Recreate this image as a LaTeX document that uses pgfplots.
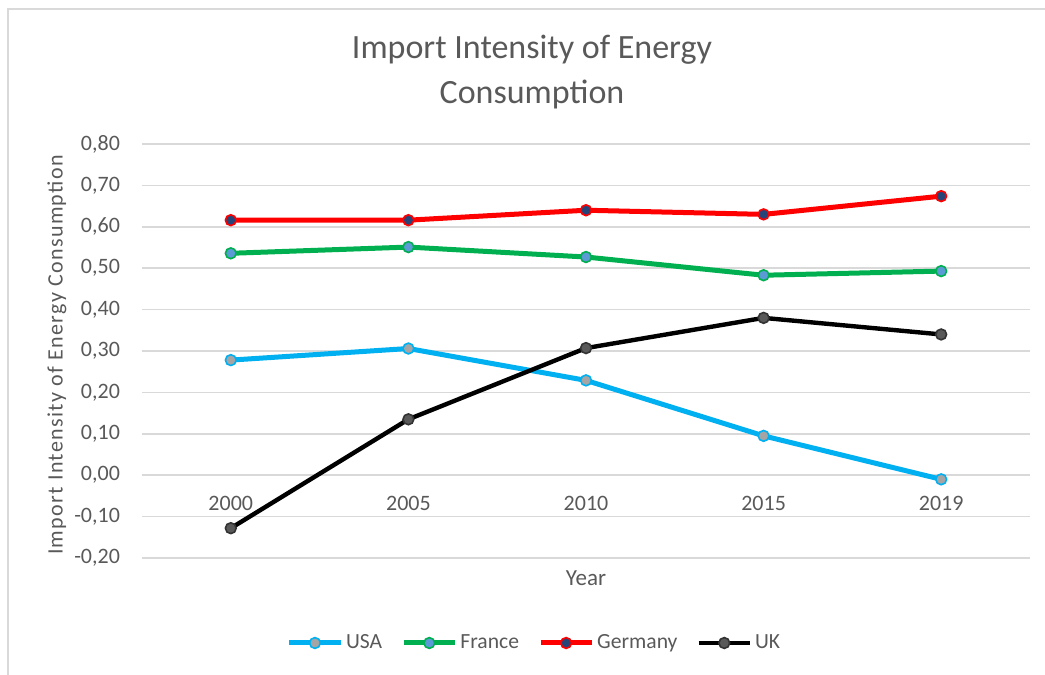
\documentclass[border=0pt]{standalone}
\usepackage{pgfplots}
\pgfplotsset{compat=1.18}
\usepackage{fontspec}
\setmainfont{Carlito}
\newfontfamily\ylabfont[LetterSpace=6]{Carlito}
\definecolor{txt}{HTML}{595959}
\definecolor{gridc}{HTML}{D9D9D9}
\definecolor{usa}{HTML}{00B0F0}
\definecolor{usam}{HTML}{A5A5A5}
\definecolor{fra}{HTML}{00B050}
\definecolor{fram}{HTML}{5B9BD5}
\definecolor{ger}{HTML}{FF0000}
\definecolor{germ}{HTML}{264478}
\definecolor{ukm}{HTML}{595959}
\begin{document}
\begin{tikzpicture}
\path[use as bounding box] (0,0) rectangle (522.5pt,337.5pt);
\draw[gridc, line width=1pt] (4pt,0) -- (4pt,332.75pt) -- (522.5pt,332.75pt);
\begin{axis}[
  at={(71pt,58.5pt)}, anchor=south west,
  scale only axis, width=444pt, height=207pt,
  xmin=-0.5, xmax=4.5, ymin=-0.2, ymax=0.8,
  xtick={0,1,2,3,4}, xticklabels={2000,2005,2010,2015,2019},
  ytick={-0.2,-0.1,0,0.1,0.2,0.3,0.4,0.5,0.6,0.7,0.8},
  yticklabels={{-0,20},{-0,10},{0,00},{0,10},{0,20},{0,30},{0,40},{0,50},{0,60},{0,70},{0,80}},
  major tick length=0pt,
  axis line style={draw=none},
  xmajorgrids=false, ymajorgrids=true,
  major grid style={draw=gridc, line width=0.75pt},
  tick label style={font=\fontsize{11}{12}\selectfont, text=txt},
  xticklabel style={anchor=center, yshift=27.5pt},
  yticklabel style={anchor=east, xshift=-7.5pt},
  xlabel={Year},
  xlabel style={at={(axis description cs:0.5,0)}, anchor=center, yshift=-10pt, font=\fontsize{11.5}{13}\selectfont, text=txt},
  ylabel={\ylabfont Import Intensity of Energy Consumption},
  ylabel style={at={(axis description cs:-0.0957,0.4903)}, anchor=center, font=\fontsize{11}{13}\selectfont, text=txt},
  clip=false,
  legend columns=4,
  legend style={at={(axis description cs:0.4426,-0.2053)}, anchor=center, draw=none, fill=none,
    font=\fontsize{10.8}{12}\selectfont, text=txt,
    /tikz/every even column/.append style={column sep=8pt},
    nodes={inner xsep=1.5pt}},
  legend image code/.code={\draw[mark repeat=2,mark phase=2] plot coordinates {(0cm,0cm)(0.45cm,0cm)(0.9cm,0cm)};},
]
\addplot[usa, line width=2.5pt, mark=*, mark size=2.7pt, mark options={fill=usam, draw=usa, line width=0.8pt}]
  coordinates {(0,0.278) (1,0.306) (2,0.229) (3,0.095) (4,-0.010)};
\addlegendentry{USA}
\addplot[fra, line width=2.5pt, mark=*, mark size=2.7pt, mark options={fill=fram, draw=fra, line width=0.8pt}]
  coordinates {(0,0.536) (1,0.551) (2,0.527) (3,0.483) (4,0.493)};
\addlegendentry{France}
\addplot[ger, line width=2.5pt, mark=*, mark size=2.7pt, mark options={fill=germ, draw=ger, line width=0.8pt}]
  coordinates {(0,0.616) (1,0.616) (2,0.640) (3,0.630) (4,0.674)};
\addlegendentry{Germany}
\addplot[black, line width=2.2pt, mark=*, mark size=2.7pt, mark options={fill=ukm, draw=black!80, line width=0.8pt}]
  coordinates {(0,-0.128) (1,0.135) (2,0.307) (3,0.380) (4,0.340)};
\addlegendentry{UK}
\end{axis}
\node[font=\fontsize{17}{22.5}\selectfont, text=txt, align=center] at (266pt,301.5pt) {Import Intensity of Energy\\Consumption};
\end{tikzpicture}
\end{document}
